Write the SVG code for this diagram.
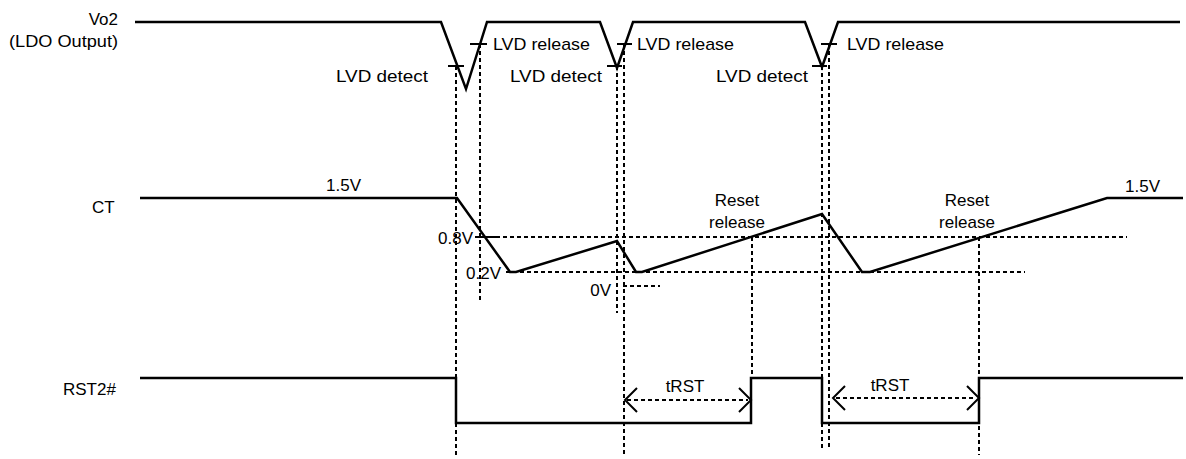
<svg xmlns="http://www.w3.org/2000/svg" width="1186" height="459" viewBox="0 0 1186 459">
<style>
text{font-family:"Liberation Sans","Noto Sans CJK JP",sans-serif;font-size:17px;fill:#000}
.w{fill:none;stroke:#000;stroke-width:2.5;stroke-linejoin:miter}
.t{fill:none;stroke:#000;stroke-width:2}
.d{fill:none;stroke:#000;stroke-width:2;stroke-dasharray:4 3}
.e{text-anchor:end}
.m{text-anchor:middle}
</style>
<rect width="1186" height="459" fill="#fff"/>
<g id="labels">
<text class="e" x="118" y="25">Vo2</text>
<text x="9" y="47" textLength="109" lengthAdjust="spacingAndGlyphs">(LDO Output)</text>
<text x="92" y="213">CT</text>
<text x="63" y="395">RST2#</text>
</g>
<g id="connectors">
<path class="d" d="M456,66V455M480,44V302M617,66V313M624,44V455M822,66V448M829,44V448M752,237V378M979,237V455"/>
<path class="d" d="M475,237H1127M506,272H1025M623,286H660"/>
<path class="d" d="M627,400H748M836,398H976"/>
<path class="t" d="M637,388L625,400L637,412M739,388L751,400L739,412M845,386L833,398L845,410M967,386L979,398L967,410"/>
</g>
<g id="vo2">
<path class="w" d="M135,22H441L466,89L487,22H600L617,68L633,22H805L822,67L838,22H1180"/>
<path class="t" d="M448,66H464M470,44H487M607,66H622M617,44H632M812,66H827M821,44H837"/>
<text x="336" y="82" textLength="92" lengthAdjust="spacingAndGlyphs">LVD detect</text>
<text x="493" y="50" textLength="97" lengthAdjust="spacingAndGlyphs">LVD release</text>
<text x="510" y="82" textLength="92" lengthAdjust="spacingAndGlyphs">LVD detect</text>
<text x="637" y="50" textLength="97" lengthAdjust="spacingAndGlyphs">LVD release</text>
<text x="716" y="82" textLength="92" lengthAdjust="spacingAndGlyphs">LVD detect</text>
<text x="847" y="50" textLength="97" lengthAdjust="spacingAndGlyphs">LVD release</text>
</g>
<g id="ct">
<path class="w" d="M140,198H457L510,272H516L617,241L636,272H642L822,214L862,272H870L1107,198H1183"/>
<path class="t" d="M476,237H500"/>
<text x="326" y="191">1.5V</text>
<text x="1125" y="192">1.5V</text>
<text class="m" x="737" y="206">Reset</text>
<text class="m" x="737" y="228">release</text>
<text class="m" x="967" y="206">Reset</text>
<text class="m" x="967" y="228">release</text>
<text class="e" x="473" y="244">0.8V</text>
<text class="e" x="501" y="279">0.2V</text>
<text class="e" x="611" y="296">0V</text>
</g>
<g id="rst">
<path class="w" d="M140,378H456V423H751V378H822V423H979V378H1183"/>
<text class="m" x="685" y="392">tRST</text>
<text class="m" x="890" y="391">tRST</text>
</g>
</svg>
